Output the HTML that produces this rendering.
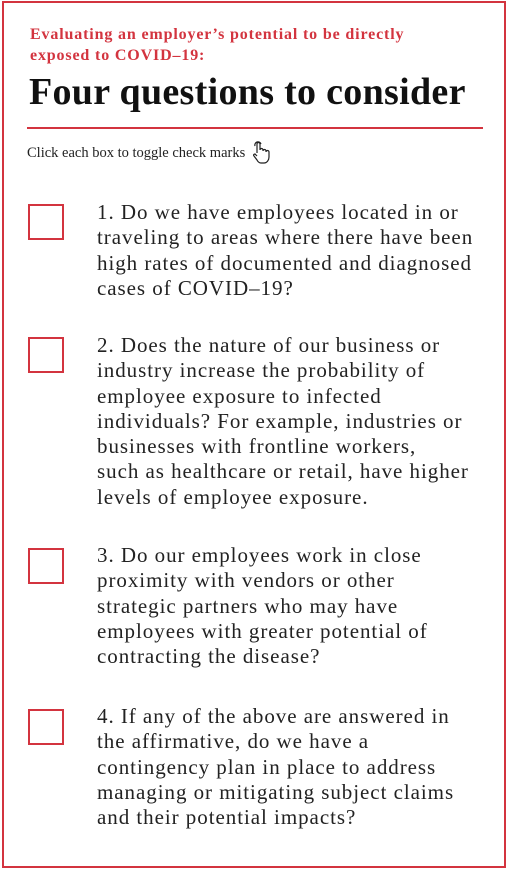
<!DOCTYPE html>
<html><head><meta charset="utf-8"><style>
html,body{margin:0;padding:0;background:#fff;}
body{width:507px;height:870px;position:relative;overflow:hidden;font-family:"Liberation Serif",serif;}
.frame{position:absolute;left:2px;top:1px;width:500px;height:863px;border:2px solid #d3343f;}
.sub{position:absolute;left:30px;top:24px;color:#d3343f;font-weight:bold;font-size:16px;line-height:21px;letter-spacing:0.85px;}
.title{position:absolute;left:29px;top:71px;font-weight:bold;font-size:38px;line-height:42px;color:#111;letter-spacing:0.3px;}
.rule{position:absolute;left:27px;top:127px;width:456px;height:2px;background:#d3343f;}
.hint{position:absolute;left:27px;top:145px;font-size:14.5px;line-height:17px;color:#222;}
.box{position:absolute;left:28px;width:32px;height:32px;border:2px solid #d3343f;cursor:pointer;}
.q{position:absolute;left:97px;font-size:21px;line-height:25.3px;color:#222;white-space:nowrap;letter-spacing:0.95px;}
</style></head><body>
<div class="frame"></div>
<div class="sub">Evaluating an employer’s potential to be directly<br>exposed to COVID–19:</div>
<div class="title">Four questions to consider</div>
<div class="rule"></div>
<div class="hint">Click each box to toggle check marks</div>
<svg style="position:absolute;left:252px;top:140px" width="18" height="24" viewBox="0 0 18 24"><path d="M5 13V4a1.5 1.5 0 0 1 3 0v6 M8 10a1.5 1.5 0 0 1 3 0v1 M11 11a1.5 1.5 0 0 1 3 0v1 M14 12a1.5 1.5 0 0 1 3 0v5c0 3-2 6-5 6h-3c-2 0-3-1-4-3l-3-4c-1-1 0-2 1-2l2 2 M3 6a3 3 0 0 1 6-2" fill="none" stroke="#222" stroke-width="1.2"/></svg>

<div class="box" style="top:204px"></div>
<div class="q" style="top:200px">1. Do we have employees located in or<br>traveling to areas where there have been<br>high rates of documented and diagnosed<br>cases of COVID–19?</div>

<div class="box" style="top:337px"></div>
<div class="q" style="top:333px">2. Does the nature of our business or<br>industry increase the probability of<br>employee exposure to infected<br>individuals? For example, industries or<br>businesses with frontline workers,<br>such as healthcare or retail, have higher<br>levels of employee exposure.</div>

<div class="box" style="top:548px"></div>
<div class="q" style="top:543px">3. Do our employees work in close<br>proximity with vendors or other<br>strategic partners who may have<br>employees with greater potential of<br>contracting the disease?</div>

<div class="box" style="top:709px"></div>
<div class="q" style="top:704px">4. If any of the above are answered in<br>the affirmative, do we have a<br>contingency plan in place to address<br>managing or mitigating subject claims<br>and their potential impacts?</div>
<script>
document.querySelectorAll('.box').forEach(function(b){b.addEventListener('click',function(){b.textContent=b.textContent?'':'✓';b.style.cssText+=';color:#d3343f;font-size:28px;line-height:32px;text-align:center';});});
</script>
</body></html>
